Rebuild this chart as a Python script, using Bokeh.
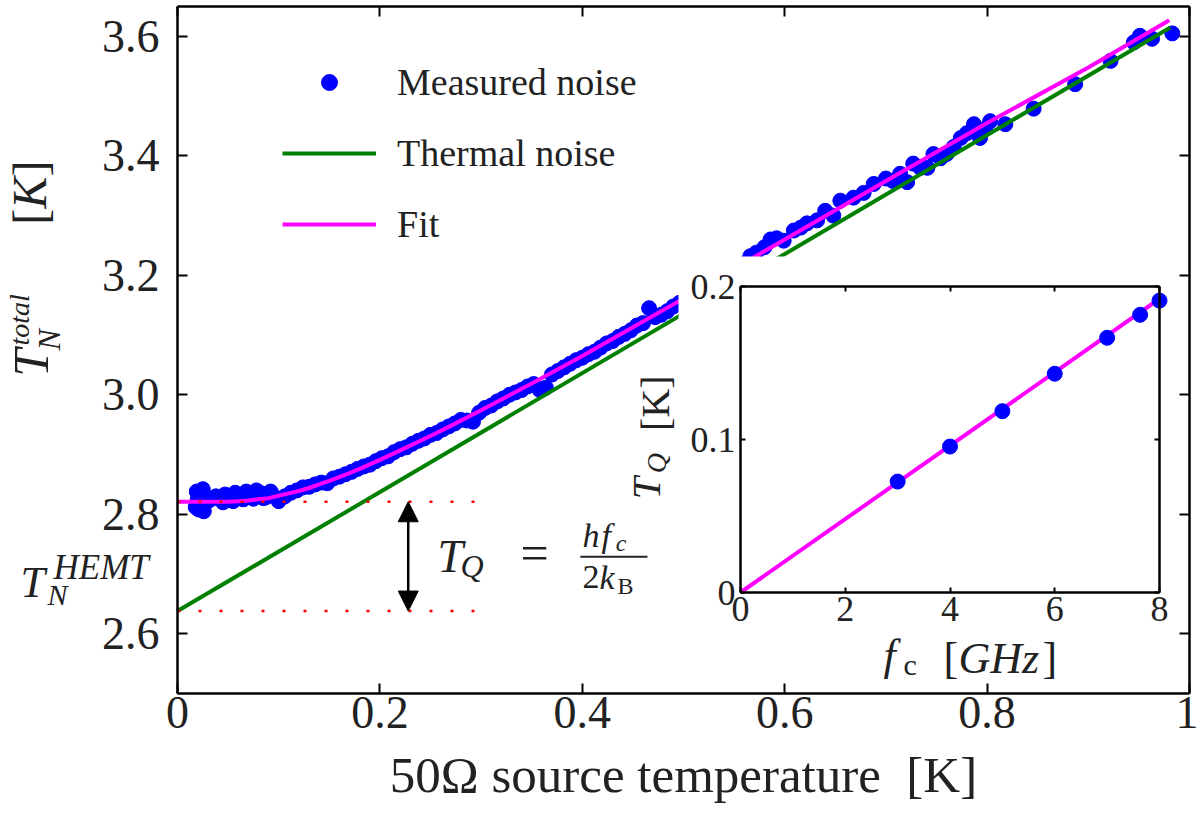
import math
from bokeh.plotting import figure
from bokeh.models import (Range1d, FixedTicker, LinearAxis, Label, Arrow, NormalHead,
                          Legend, LegendItem)
from bokeh.embed import file_html
from bokeh.resources import INLINE

SERIF = "Liberation Serif"
INK = "#222222"

# ---------------- data ----------------
source_temp = [0.018, 0.019, 0.020, 0.021, 0.022, 0.024, 0.025, 0.026, 0.027, 0.030,
               0.034, 0.038, 0.042, 0.045, 0.047, 0.052, 0.055, 0.057, 0.062, 0.065,
               0.068, 0.073, 0.075, 0.078, 0.083, 0.085, 0.088, 0.092, 0.094, 0.100,
               0.106, 0.112, 0.118, 0.124, 0.130, 0.136, 0.142, 0.148,
               0.154, 0.160, 0.166, 0.172, 0.178, 0.184, 0.190, 0.196, 0.202, 0.208,
               0.214, 0.220, 0.226, 0.232, 0.238, 0.244, 0.250, 0.256, 0.262, 0.268,
               0.274, 0.280, 0.286, 0.292, 0.298, 0.304, 0.310, 0.316, 0.322, 0.328,
               0.334, 0.340, 0.346, 0.352, 0.358, 0.364, 0.370, 0.376, 0.382, 0.388,
               0.394, 0.400, 0.406, 0.412, 0.418, 0.424, 0.430, 0.436, 0.442, 0.448,
               0.454, 0.460, 0.466, 0.472, 0.478, 0.484, 0.490, 0.496, 0.502, 0.510,
               0.518, 0.526, 0.534, 0.542, 0.550, 0.558, 0.566, 0.572, 0.580, 0.586,
               0.592, 0.599, 0.609, 0.616, 0.622, 0.632, 0.640, 0.648, 0.655, 0.668,
               0.678, 0.688, 0.700, 0.707, 0.714, 0.721, 0.727, 0.734, 0.741, 0.747,
               0.754, 0.760, 0.767, 0.774, 0.780, 0.787, 0.793, 0.798, 0.803, 0.818,
               0.846, 0.887, 0.922, 0.945, 0.951, 0.963, 0.983]
measured_noise = [2.812, 2.838, 2.825, 2.808, 2.832, 2.818, 2.842, 2.805, 2.828, 2.822,
                  2.826, 2.830, 2.827, 2.820, 2.833, 2.829, 2.822, 2.836, 2.832, 2.825,
                  2.838, 2.830, 2.826, 2.840, 2.835, 2.827, 2.829, 2.838, 2.832, 2.822,
                  2.830, 2.836, 2.840, 2.845, 2.846, 2.850, 2.853, 2.852,
                  2.860, 2.863, 2.867, 2.871, 2.876, 2.880, 2.883, 2.889, 2.894, 2.897,
                  2.904, 2.909, 2.912, 2.918, 2.923, 2.927, 2.933, 2.936, 2.942, 2.947,
                  2.952, 2.958, 2.957, 2.955, 2.970, 2.978, 2.982, 2.989, 2.994, 3.000,
                  3.004, 3.008, 3.014, 3.018, 3.008, 3.012, 3.034, 3.040, 3.046, 3.052,
                  3.058, 3.062, 3.068, 3.072, 3.079, 3.086, 3.090, 3.097, 3.102, 3.108,
                  3.116, 3.120, 3.145, 3.130, 3.134, 3.140, 3.148, 3.154, 3.160, 3.165,
                  3.172, 3.180, 3.190, 3.198, 3.208, 3.218, 3.232, 3.238, 3.247, 3.260,
                  3.262, 3.258, 3.275, 3.280, 3.287, 3.292, 3.308, 3.300, 3.325, 3.330,
                  3.338, 3.353, 3.362, 3.358, 3.370, 3.356, 3.387, 3.380, 3.380, 3.403,
                  3.396, 3.403, 3.415, 3.430, 3.438, 3.453, 3.430, 3.445, 3.458, 3.453,
                  3.479, 3.520, 3.559, 3.590, 3.601, 3.596, 3.605]

thermal_x = [0.0, 0.981]
thermal_y = [2.638, 3.615]

fit_x = [0.0, 0.03, 0.05, 0.06, 0.07, 0.08, 0.09, 0.10, 0.11, 0.12, 0.13, 0.14, 0.15,
         0.17, 0.18, 0.20, 0.22, 0.25, 0.27, 0.30, 0.35, 0.40, 0.45, 0.50, 0.55, 0.60,
         0.70, 0.80, 0.90, 0.98]
fit_y = [2.821, 2.821, 2.821, 2.822, 2.823, 2.825, 2.827, 2.831, 2.835, 2.839, 2.844,
         2.850, 2.856, 2.869, 2.876, 2.891, 2.907, 2.931, 2.948, 2.974, 3.019, 3.065,
         3.113, 3.161, 3.211, 3.260, 3.358, 3.455, 3.548, 3.627]

level_x = [0.0, 0.295]         # extent of the dotted guide lines
tq_level = 2.821               # fit value at T -> 0
hemt_level = 2.638             # thermal line value at T = 0
arrow_x = 0.228

x_lo, x_hi = 0.0, 1.0
y_lo, y_hi = 2.5, 3.65
x_ticks = [0.0, 0.2, 0.4, 0.6, 0.8, 1.0]
x_tick_labels = ["0", "0.2", "0.4", "0.6", "0.8", "1"]
y_ticks = [2.6, 2.8, 3.0, 3.2, 3.4, 3.6]
y_tick_labels = ["2.6", "2.8", "3.0", "3.2", "3.4", "3.6"]

inset_fc = [3.0, 4.0, 5.0, 6.0, 7.0, 7.63, 8.0]
inset_tq = [0.0725, 0.0954, 0.1185, 0.1430, 0.1665, 0.1815, 0.1908]
inset_fit_fc = [0.0, 8.0]
inset_fit_tq = [0.0, 0.192]
ix_lo, ix_hi = 0.0, 8.0
iy_lo, iy_hi = 0.0, 0.2
inset_x_ticks = [0, 2, 4, 6, 8]
inset_x_tick_labels = ["0", "2", "4", "6", "8"]
inset_y_ticks = [0.0, 0.1, 0.2]
inset_y_tick_labels = ["0", "0.1", "0.2"]

BLUE = "#0000ff"
GREEN = "#008000"
MAGENTA = "#ff00ff"
RED = "#ff0000"

# ---------------- layout constants (page pixels) ----------------
W, H = 1198, 833              # canvas; the page template has no body margin
CX0, CY0 = 0, 0
MAIN_BOX = (177, 1189, 6, 693)        # left, right, top, bottom of main axes box
INSET_BOX = (740, 1159, 286, 592)     # same for the inset axes box
INSET_BG = (678, 1170, 256, 680)      # white patch behind the inset


def ranges_for(box, lo_x, hi_x, lo_y, hi_y):
    l, r, t, b = box
    sx = (hi_x - lo_x) / (r - l)
    sy = (hi_y - lo_y) / (b - t)
    xs = lo_x - (l - CX0) * sx
    xe = hi_x + (CX0 + W - r) * sx
    ye = hi_y + (t - CY0) * sy
    ys = lo_y - (CY0 + H - b) * sy
    return (xs, xe), (ys, ye), 1 / sx, 1 / sy


(mx0, mx1), (my0, my1), m_ppx, m_ppy = ranges_for(MAIN_BOX, x_lo, x_hi, y_lo, y_hi)
(ix0, ix1), (iy0, iy1), i_ppx, i_ppy = ranges_for(INSET_BOX, ix_lo, ix_hi, iy_lo, iy_hi)

p = figure(width=W, height=H, x_range=Range1d(mx0, mx1), y_range=Range1d(my0, my1),
           x_axis_type=None, y_axis_type=None,
           output_backend="svg", toolbar_location=None,
           min_border_left=0, min_border_right=0, min_border_top=0, min_border_bottom=0)
p.extra_x_ranges = {"ins": Range1d(ix0, ix1)}
p.extra_y_ranges = {"ins": Range1d(iy0, iy1)}
p.xgrid.visible = False
p.ygrid.visible = False
p.outline_line_color = None
p.background_fill_color = "white"
p.border_fill_color = "white"


def make_axis(ticks, labels, loc, bounds, size, tick_in, show_labels, standoff, **kw):
    ax = LinearAxis(fixed_location=loc, bounds=bounds, **kw)
    ax.ticker = FixedTicker(ticks=ticks)
    ax.minor_tick_line_color = None
    ax.minor_tick_out = 0
    ax.minor_tick_in = 0
    ax.major_tick_in = tick_in
    ax.major_tick_out = 0
    ax.major_tick_line_width = 2
    ax.major_tick_line_color = "black"
    ax.axis_line_width = 2.5
    ax.axis_line_color = "black"
    ax.major_label_overrides = {t: l for t, l in zip(ticks, labels)}
    ax.major_label_text_font = SERIF
    ax.major_label_text_font_size = size
    ax.major_label_standoff = standoff
    ax.major_label_text_color = INK if show_labels else None
    return ax


# ---------------- main data ----------------
r_pts = p.scatter(source_temp, measured_noise, size=15, fill_color=BLUE, line_color=BLUE)
r_th = p.line(thermal_x, thermal_y, line_color=GREEN, line_width=4)
r_fit = p.line(fit_x, fit_y, line_color=MAGENTA, line_width=4)
p.line(level_x, [tq_level, tq_level], line_color=RED, line_width=2.5, line_dash="3 18")
p.line(level_x, [hemt_level, hemt_level], line_color=RED, line_width=2.5, line_dash="3 18")

# main axes (drawn at the box edges)
xb = make_axis(x_ticks, x_tick_labels, y_lo, (x_lo, x_hi), "46px", 10, True, 3)
xb.axis_label = "50Ω source temperature\u00a0\u00a0[K]"
xb.axis_label_text_font = SERIF
xb.axis_label_text_font_style = "normal"
xb.axis_label_text_font_size = "51px"
xb.axis_label_text_color = INK
xb.axis_label_standoff = 16
p.add_layout(xb, "below")
p.add_layout(make_axis(x_ticks, x_tick_labels, y_hi, (x_lo, x_hi), "46px", 10, False, 0), "above")
p.add_layout(make_axis(y_ticks, y_tick_labels, x_lo, (y_lo, y_hi), "46px", 10, True, 18), "left")
p.add_layout(make_axis(y_ticks, y_tick_labels, x_hi, (y_lo, y_hi), "46px", 10, False, 0), "right")

# ---------------- inset (own scales through extra ranges) ----------------
bl, br, bt, bb = INSET_BG
il, ir, it, ib = INSET_BOX
p.quad(left=ix_lo - (il - bl) / i_ppx, right=ix_hi + (br - ir) / i_ppx,
       bottom=iy_lo - (bb - ib) / i_ppy, top=iy_hi + (it - bt) / i_ppy,
       fill_color="white", line_color=None, x_range_name="ins", y_range_name="ins")
p.line(inset_fit_fc, inset_fit_tq, line_color=MAGENTA, line_width=4,
       x_range_name="ins", y_range_name="ins")
p.scatter(inset_fc, inset_tq, size=15, fill_color=BLUE, line_color=BLUE,
          x_range_name="ins", y_range_name="ins")
kw = dict(x_range_name="ins", y_range_name="ins")
p.add_layout(make_axis(inset_x_ticks, inset_x_tick_labels, iy_lo, (ix_lo, ix_hi), "36px", 5, True, 4, **kw), "below")
p.add_layout(make_axis(inset_x_ticks, inset_x_tick_labels, iy_hi, (ix_lo, ix_hi), "36px", 5, False, 0, **kw), "above")
p.add_layout(make_axis(inset_y_ticks, inset_y_tick_labels, ix_lo, (iy_lo, iy_hi), "36px", 5, True, 5, **kw), "left")
p.add_layout(make_axis(inset_y_ticks, inset_y_tick_labels, ix_hi, (iy_lo, iy_hi), "36px", 5, False, 0, **kw), "right")

# ---------------- annotations ----------------
p.add_layout(Arrow(start=NormalHead(size=20, fill_color="black", line_color="black"),
                   end=NormalHead(size=20, fill_color="black", line_color="black"),
                   x_start=arrow_x, y_start=tq_level, x_end=arrow_x, y_end=hemt_level,
                   line_width=2.5, line_color="black"))

legend = Legend(items=[LegendItem(label="Measured noise", renderers=[r_pts]),
                       LegendItem(label="Thermal noise", renderers=[r_th]),
                       LegendItem(label="Fit", renderers=[r_fit])],
                location=(282, 587), margin=0, padding=0, spacing=27,
                glyph_width=94, glyph_height=40, label_height=40, label_standoff=21,
                label_text_font=SERIF, label_text_font_size="38px",
                label_text_color=INK,
                background_fill_alpha=0, border_line_alpha=0)
p.add_layout(legend)

R90 = math.pi / 2
BASE_FIX = 0.28     # renderer draws 'alphabetic' labels ~0.28 em below the anchor


def lab(x, y, text, size, style="normal", angle=0.0, align="left", inset=False):
    ppx, ppy = (i_ppx, i_ppy) if inset else (m_ppx, m_ppy)
    shift = BASE_FIX * size
    if angle == 0.0:
        y = y + shift / ppy
    else:
        x = x - shift / ppx
    extra = dict(x_range_name="ins", y_range_name="ins") if inset else {}
    p.add_layout(Label(x=x, y=y, text=text, text_font=SERIF, text_font_size=f"{size}px",
                       text_font_style=style, angle=angle, text_align=align,
                       text_baseline="alphabetic", text_color=INK, **extra))


# y-axis label  T_N^total  [K]
lab(-0.1305, 3.0304, "T", 50, "italic", R90)
lab(-0.1186, 3.0742, "N", 32, "italic", R90)
lab(-0.1482, 3.0826, "total", 28, "italic", R90)
lab(-0.1325, 3.2846, "[", 48, "normal", R90)
lab(-0.1325, 3.3116, "K", 48, "italic", R90)
lab(-0.1325, 3.3655, "]", 48, "normal", R90)

# T_N^HEMT
lab(-0.1551, 2.6650, "T", 44, "italic")
lab(-0.1285, 2.6515, "N", 30, "italic")
lab(-0.1225, 2.6953, "HEMT", 35, "italic")

# T_Q = h f_c / 2 k_B
lab(0.2569, 2.7071, "T", 46, "italic")
lab(0.2796, 2.6987, "Q", 32, "italic")
lab(0.3528, 2.7122, "=", 50, "normal", align="center")
lab(0.4002, 2.7492, "h", 34, "italic")
lab(0.4190, 2.7492, "f", 34, "italic")
lab(0.4330, 2.7408, "c", 24, "italic")
p.add_layout(Arrow(start=None, end=None, x_start=0.398, y_start=2.7290,
                   x_end=0.4644, y_end=2.7290, line_width=2, line_color=INK))
lab(0.4002, 2.6785, "2", 34, "normal")
lab(0.4170, 2.6785, "k", 34, "italic")
lab(0.4348, 2.6684, "B", 24, "normal")

# inset y label  T_Q [K]
lab(0.4743, 2.8250, "T", 40, "italic", R90)
lab(0.4812, 2.8688, "Q", 28, "italic", R90)
lab(0.4832, 2.9395, "[K]", 40, "normal", R90)

# inset x label  f_c [GHz]
lab(2.730, -0.0490, "f", 44, "italic", inset=True)
lab(3.112, -0.0523, "c", 30, "normal", inset=True)
lab(3.876, -0.0510, "[", 44, "normal", inset=True)
lab(4.162, -0.0510, "GHz", 44, "italic", inset=True)
lab(5.766, -0.0510, "]", 44, "normal", inset=True)

open("out.html", "w").write(file_html(p, INLINE))
